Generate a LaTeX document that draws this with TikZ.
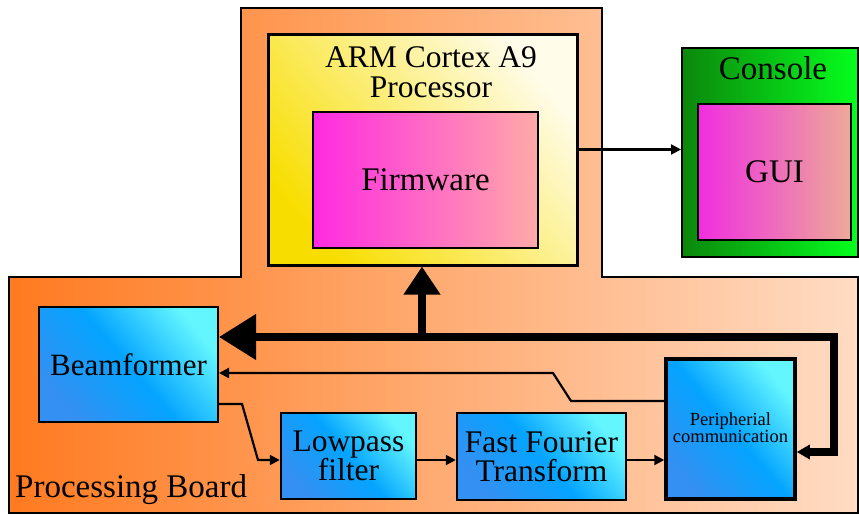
\documentclass[tikz,border=0pt]{standalone}
\usepackage{fontspec}
\setmainfont{Liberation Serif}
\usetikzlibrary{arrows.meta}
\definecolor{boardL}{HTML}{FF7A20}
\definecolor{boardR}{HTML}{FFDCC4}
\definecolor{armA}{HTML}{F8DE00}
\definecolor{armB}{HTML}{FFFCEA}
\definecolor{fwL}{HTML}{FF2AE2}
\definecolor{fwR}{HTML}{FFAAA8}
\definecolor{conL}{HTML}{0B870B}
\definecolor{conR}{HTML}{05FF1E}
\definecolor{guiL}{HTML}{F02EE0}
\definecolor{guiR}{HTML}{EDAA98}
\definecolor{blA}{HTML}{3490F2}
\definecolor{blM}{HTML}{04A4FF}
\definecolor{blB}{HTML}{64F6FF}
\tikzset{
  blk/.style={inner sep=0pt, draw=black, align=center},
  bluebox/.style={blk, bottom color=blA, top color=blB, middle color=blM, shading angle=-50},
  thinarrow/.style={line width=2.2pt, -{Triangle[length=10pt,width=10pt]}},
  bus/.style={line width=7.5pt},
  bigfont/.style={font=\fontsize{33}{30}\selectfont},
  midfont/.style={font=\fontsize{31.5}{29.5}\selectfont},
  txt/.style={inner sep=0pt, align=center, text=black},
}
\begin{document}
\begin{tikzpicture}[x=1pt,y=-1pt]
\useasboundingbox (0,0) rectangle (859,514);
% processing board outline
\path[draw=black, line width=2pt, left color=boardL, right color=boardR]
  (8.5,277) -- (241,277) -- (241,8) -- (602,8) -- (602,277) -- (858,277) -- (858,513) -- (8.5,513) -- cycle;
\node[txt, anchor=base west, bigfont] (boardlabel) at (15,497) {Processing Board};
% ARM processor
\node[blk, line width=3pt, minimum width=309pt, minimum height=231pt,
      bottom color=armA, top color=armB, shading angle=-50] (arm) at (422.5,149.5) {};
\node[txt, midfont] (armlabel) at (431,72) {ARM Cortex A9\\Processor};
\node[blk, line width=1.5pt, minimum width=225pt, minimum height=136pt,
      left color=fwL, right color=fwR] (fw) at (425.5,180) {};
\node[txt, bigfont] (fwtext) at (fw.center) {Firmware};
% Console
\node[blk, line width=2pt, minimum width=176pt, minimum height=209pt,
      left color=conL, right color=conR] (console) at (770,152.5) {};
\node[txt, bigfont] (conlabel) at (773,68) {Console};
\node[blk, line width=1.5pt, minimum width=153pt, minimum height=136pt,
      left color=guiL, right color=guiR] (gui) at (774.5,172) {};
\node[txt, bigfont] (guitext) at (gui.center) {GUI};
% processing blocks
\node[bluebox, line width=2pt, minimum width=179pt, minimum height=115pt] (beam) at (128.5,364.5) {};
\node[txt, font=\fontsize{31}{29}\selectfont] (beamtext) at (beam.center) {Beamformer};
\node[bluebox, line width=2.5pt, minimum width=135pt, minimum height=86pt] (low) at (348.5,456) {};
\node[txt, font=\fontsize{31.5}{29.5}\selectfont] (lowtext) at (low.center) {Lowpass\\filter};
\node[bluebox, line width=2.5pt, minimum width=169pt, minimum height=87pt] (fft) at (541.5,456.5) {};
\node[txt, font=\fontsize{31.5}{29.5}\selectfont] (ffttext) at (fft.center) {Fast Fourier\\Transform};
\node[bluebox, line width=3.5pt, minimum width=129pt, minimum height=140pt] (peri) at (730.5,429) {};
\node[txt, font=\fontsize{18.5}{17}\selectfont] (peritext) at ([yshift=1pt]peri.center) {Peripherial\\communication};
% connectors
\draw[thinarrow] (arm.east) -- (arm.east -| console.west);
\coordinate (busR1) at (834,452);
\coordinate (busR2) at (834,337);
\coordinate (busJ) at (422,337);
\draw[bus, {Triangle[length=13pt,width=14pt]}-{Triangle[length=37pt,width=44pt]}]
  (busR1 -| peri.east) -- (busR1) -- (busR2) -- (busR2 -| beam.east);
\draw[bus, -{Triangle[length=28pt,width=35pt]}] (busJ) -- (busJ |- arm.south);
\coordinate (t1) at (571,401);
\coordinate (t2) at (553,373);
\draw[thinarrow] (t1 -| peri.west) -- (t1) -- (t2) -- (t2 -| beam.east);
\coordinate (b1) at (242,404);
\coordinate (b2) at (258,460);
\draw[thinarrow] (b1 -| beam.east) -- (b1) -- (b2) -- (b2 -| low.west);
\draw[thinarrow] (b2 -| low.east) -- (b2 -| fft.west);
\draw[thinarrow] (b2 -| fft.east) -- (b2 -| peri.west);
\end{tikzpicture}
\end{document}
